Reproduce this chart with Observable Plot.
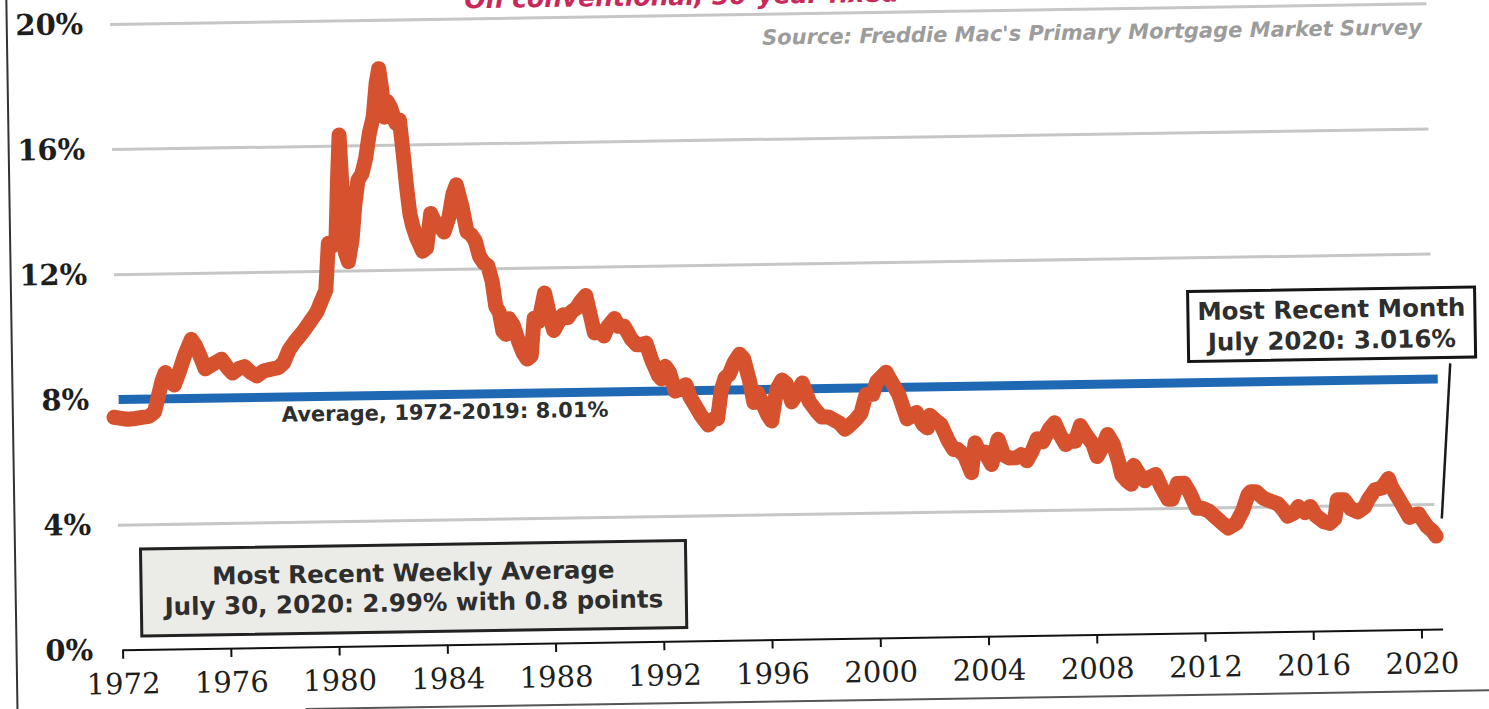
<!DOCTYPE html>
<html>
<head>
<meta charset="utf-8">
<script src="https://cdn.jsdelivr.net/npm/d3@7"></script>
<script src="https://cdn.jsdelivr.net/npm/@observablehq/plot@0.6"></script>
<style>
  html, body { margin: 0; padding: 0; background: #fff; }
  #page { position: relative; width: 1489px; height: 709px; overflow: hidden; background: #fff; }
  #rot { position: absolute; left: 0; top: 0; width: 1489px; height: 709px;
         transform: rotate(-0.9deg); transform-origin: 744.5px 354.5px; }
  #chart { position: absolute; left: 0; top: 0; }
  #title { position: absolute; left: 470px; top: -17px; font: italic bold 25px/25px "DejaVu Sans", sans-serif;
           color: #c8285a; white-space: nowrap; }
  #source { position: absolute; right: 62px; top: 26px; font: italic bold 21px/24px "DejaVu Sans", sans-serif;
            color: #9c9c9c; white-space: nowrap; }
  .box { position: absolute; box-sizing: border-box; display: flex; flex-direction: column;
         justify-content: center; align-items: center; text-align: center;
         font: bold 24.5px/30px "DejaVu Sans", sans-serif; color: #2e2e2e; white-space: nowrap; }
  #monthBox { left: 1187px; top: 297px; width: 290px; height: 73px; background: #fff; border: 3px solid #151515;
              font-size: 24.5px; line-height: 31px; }
  #weekBox { left: 136px; top: 538px; width: 548px; height: 90px; background: #ebebe7; border: 3px solid #222; }
  #leftEdge { position: absolute; left: 11px; top: -20px; width: 2px; height: 760px; background: #333; }
  #bottomEdge { position: absolute; left: 300px; top: 701px; width: 1250px; height: 2px; background: #555; }
  g[aria-label="x-axis tick label"] text, g[aria-label="y-axis tick label"] text { font-family: "DejaVu Serif", serif; }
  g[aria-label="text"] text { font-family: "DejaVu Sans", sans-serif; }
</style>
</head>
<body>
<div id="page">
  <div id="rot">
    <div id="title">On conventional, 30-year fixed</div>
    <div id="chart"></div>
    <div id="source">Source: Freddie Mac's Primary Mortgage Market Survey</div>
    <div class="box" id="monthBox"><div>Most Recent Month<br>July 2020: 3.016%</div></div>
    <div class="box" id="weekBox"><div>Most Recent Weekly Average<br>July 30, 2020: 2.99% with 0.8 points</div></div>
    <div id="leftEdge"></div>
    <div id="bottomEdge"></div>
  </div>
</div>
<script>
// ---- Data ----
const yearTicks = [1972, 1976, 1980, 1984, 1988, 1992, 1996, 2000, 2004, 2008, 2012, 2016, 2020];
const percentTicks = [0, 4, 8, 12, 16, 20];
const gridValues = [4, 12, 16, 20];
const averageRate = 8.01;
const averageLabel = "Average, 1972-2019: 8.01%";

// 30-year fixed mortgage rate, [decimal year, percent]
const rates1970s = [
  [1971.8,7.45],[1972.0,7.42],[1972.3,7.38],[1972.6,7.4],[1972.9,7.44],[1973.1,7.46],[1973.3,7.6],
  [1973.45,8.1],[1973.6,8.6],[1973.72,8.85],[1973.9,8.55],[1974.05,8.45],[1974.25,8.9],[1974.45,9.4],
  [1974.7,9.9],[1974.85,9.7],[1975.0,9.4],[1975.2,8.95],[1975.4,9.05],[1975.6,9.15],[1975.8,9.25],
  [1976.0,9.0],[1976.2,8.8],[1976.45,8.95],[1976.65,9.0],[1976.9,8.8],[1977.1,8.7],[1977.35,8.85],
  [1977.6,8.9],[1977.9,8.95],[1978.1,9.1],[1978.3,9.5],[1978.55,9.8],[1978.85,10.1],[1979.1,10.4],
  [1979.35,10.7],[1979.55,11.1],[1979.7,11.4],[1979.82,12.9],[1979.95,12.8]
];
const rates1980s = [
  [1980.1,12.9],[1980.2,15.0],[1980.28,16.35],[1980.36,14.6],[1980.44,12.6],[1980.55,12.3],[1980.7,13.0],
  [1980.82,14.1],[1980.95,14.9],[1981.1,15.1],[1981.25,15.6],[1981.4,16.4],[1981.55,16.9],[1981.68,18.0],
  [1981.78,18.45],[1981.88,17.8],[1981.97,16.9],[1982.08,17.4],[1982.2,17.2],[1982.38,16.7],[1982.52,16.8],
  [1982.65,15.6],[1982.75,14.6],[1982.85,13.8],[1982.95,13.4],[1983.1,13.0],[1983.3,12.6],[1983.45,12.7],
  [1983.62,13.8],[1983.78,13.5],[1983.95,13.4],[1984.1,13.2],[1984.3,13.7],[1984.45,14.4],[1984.58,14.7],
  [1984.78,14.0],[1984.95,13.2],[1985.1,13.1],[1985.25,12.9],[1985.4,12.4],[1985.55,12.2],[1985.7,12.1],
  [1985.85,11.6],[1985.97,10.8],[1986.1,10.6],[1986.22,10.0],[1986.32,9.9],[1986.45,10.4],[1986.6,10.2],
  [1986.78,9.7],[1986.95,9.3],[1987.1,9.1],[1987.25,9.2],[1987.38,10.4],[1987.55,10.3],[1987.78,11.2],
  [1987.88,10.8],[1987.97,10.4],[1988.1,10.0],[1988.3,10.3],[1988.45,10.5],[1988.62,10.4],[1988.78,10.6],
  [1988.95,10.7],[1989.1,10.9],[1989.3,11.1],[1989.45,10.5],[1989.6,9.9],[1989.78,9.95],[1989.95,9.8]
];
const rates1990s = [
  [1990.1,10.1],[1990.35,10.35],[1990.5,10.1],[1990.7,10.1],[1990.95,9.7],[1991.15,9.5],[1991.3,9.5],
  [1991.5,9.55],[1991.7,9.0],[1991.95,8.5],[1992.05,8.4],[1992.2,8.8],[1992.35,8.6],[1992.55,8.0],
  [1992.75,8.1],[1992.95,8.2],[1993.1,7.8],[1993.3,7.5],[1993.5,7.2],[1993.75,6.9],[1993.95,7.1],
  [1994.1,7.1],[1994.25,8.0],[1994.4,8.4],[1994.55,8.5],[1994.75,8.9],[1994.95,9.15],[1995.1,9.0],
  [1995.3,8.3],[1995.45,7.6],[1995.6,7.9],[1995.8,7.5],[1995.95,7.2],[1996.1,7.0],[1996.3,8.0],
  [1996.5,8.3],[1996.65,8.2],[1996.85,7.6],[1997.0,7.8],[1997.25,8.2],[1997.5,7.6],[1997.75,7.3],
  [1997.95,7.1],[1998.2,7.1],[1998.4,7.0],[1998.6,6.9],[1998.8,6.7],[1998.95,6.8],[1999.2,7.0],
  [1999.4,7.2],[1999.6,7.8],[1999.85,7.8]
];
const rates2000s = [
  [2000.0,8.2],[2000.35,8.5],[2000.6,8.1],[2000.8,7.8],[2000.95,7.4],[2001.1,7.0],[2001.3,7.1],
  [2001.45,7.2],[2001.7,6.8],[2001.85,6.7],[2001.95,7.1],[2002.2,6.9],[2002.35,6.8],[2002.6,6.3],
  [2002.8,6.0],[2002.95,6.0],[2003.2,5.8],[2003.45,5.25],[2003.6,6.2],[2003.75,5.9],[2003.95,5.9],
  [2004.2,5.5],[2004.45,6.3],[2004.65,5.8],[2004.85,5.7],[2005.1,5.7],[2005.3,5.8],[2005.5,5.6],
  [2005.7,5.9],[2005.9,6.3],[2006.1,6.2],[2006.35,6.6],[2006.55,6.8],[2006.75,6.4],[2006.95,6.1],
  [2007.1,6.2],[2007.3,6.2],[2007.5,6.7],[2007.7,6.4],[2007.95,6.1],[2008.1,5.7],[2008.3,6.0],
  [2008.5,6.4],[2008.7,6.1],[2008.9,5.5],[2009.0,5.1],[2009.2,4.9],[2009.35,4.8],[2009.45,5.4],
  [2009.65,5.1],[2009.85,4.9]
];
const rates2010s = [
  [2010.0,5.0],[2010.25,5.1],[2010.45,4.7],[2010.7,4.3],[2010.85,4.3],[2011.05,4.8],[2011.3,4.8],
  [2011.5,4.5],[2011.75,4.0],[2011.95,4.0],[2012.2,3.9],[2012.45,3.7],[2012.7,3.5],[2012.9,3.35],
  [2013.2,3.5],[2013.45,3.9],[2013.65,4.4],[2013.75,4.5],[2013.95,4.5],[2014.2,4.3],[2014.45,4.2],
  [2014.75,4.1],[2014.95,3.9],[2015.1,3.7],[2015.35,3.8],[2015.5,4.0],[2015.75,3.8],[2015.95,4.0],
  [2016.15,3.7],[2016.45,3.5],[2016.65,3.45],[2016.85,3.6],[2016.95,4.2],[2017.2,4.2],[2017.45,3.9],
  [2017.7,3.8],[2017.95,3.95],[2018.1,4.2],[2018.35,4.5],[2018.6,4.55],[2018.85,4.85],[2018.95,4.6],
  [2019.15,4.3],[2019.35,4.0],[2019.6,3.6],[2019.85,3.7],[2019.95,3.7]
];
const rates2020s = [[2020.1,3.5],[2020.25,3.3],[2020.45,3.15],[2020.58,2.99]];

// connector from "Most Recent Month" box down to the end of the series
const connector = [{x1: 2021.2, y1: 8.5, x2: 2020.8, y2: 3.55}];

// ---- Build ----
const series = [...rates1970s, ...rates1980s, ...rates1990s, ...rates2000s, ...rates2010s, ...rates2020s]
  .map(([t, r]) => ({t, r}));

const chart = Plot.plot({
  width: 1489,
  height: 709,
  marginLeft: 118,
  marginRight: 72,
  marginTop: 14,
  marginBottom: 69,
  style: {background: "transparent", overflow: "visible"},
  x: {domain: [1972, 2020]},
  y: {domain: [0, 20]},
  marks: [
    Plot.ruleY(gridValues, {x1: 1971.9, x2: 2020.55, stroke: "#c6c6c6", strokeWidth: 3}),
    Plot.ruleY([averageRate], {x1: 1972, x2: 2020.75, stroke: "#1f68b4", strokeWidth: 9}),
    Plot.line(series, {x: "t", y: "r", stroke: "#d6512e", strokeWidth: 15,
      strokeLinejoin: "round", strokeLinecap: "round", curve: "linear"}),
    Plot.text([averageLabel], {x: 1978, y: averageRate, dy: 18, text: d => d, textAnchor: "start",
      fontSize: 21, fontWeight: "bold", fill: "#2e2e2e", fontFamily: "DejaVu Sans"}),
    Plot.ruleY([0], {x1: 1972, x2: 2020.8, stroke: "#111", strokeWidth: 2}),
    Plot.axisX({ticks: yearTicks, tickFormat: d => String(d), tickSize: 9, tickPadding: 14,
      stroke: "#111", strokeWidth: 2, fontSize: 29, fill: "#1e1e1e", label: null}),
    Plot.axisY({ticks: percentTicks, tickFormat: d => d + "%", tickSize: 0, tickPadding: 30,
      fontSize: 29, fontWeight: "bold", fill: "#1e1e1e", label: null}),
    Plot.link(connector, {x1: "x1", y1: "y1", x2: "x2", y2: "y2", stroke: "#1a1a1a", strokeWidth: 2.5})
  ]
});
document.getElementById("chart").appendChild(chart);
</script>
</body>
</html>
